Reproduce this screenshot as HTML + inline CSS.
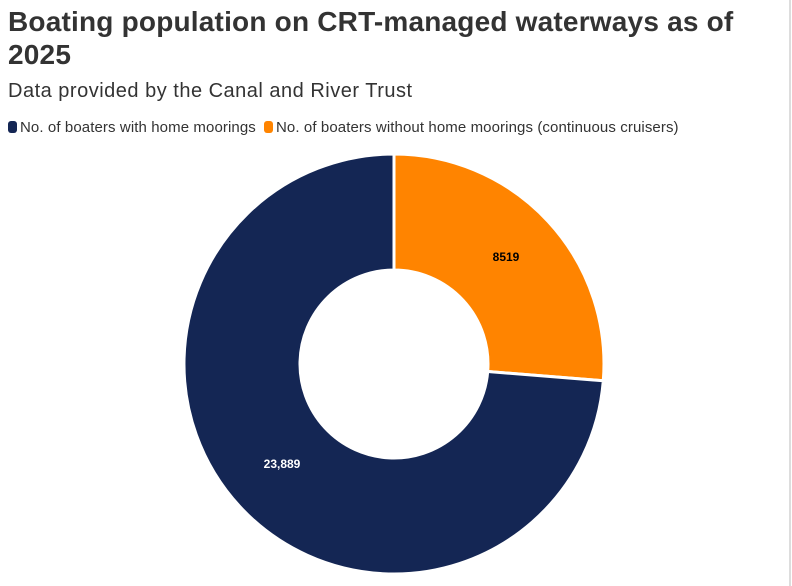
<!DOCTYPE html>
<html><head><style>
body{margin:0;width:792px;height:586px;background:#fff;font-family:"Liberation Sans",sans-serif;position:relative;overflow:hidden}
.t{position:absolute;left:8px;top:5px;font-size:28px;font-weight:bold;color:#333;line-height:33px;letter-spacing:0.2px}
.s{position:absolute;left:8px;top:80px;font-size:20px;color:#333;letter-spacing:0.5px}
.l{position:absolute;top:119px;font-size:15px;color:#333;white-space:nowrap;letter-spacing:0.1px}
.sw{display:inline-block;width:9px;height:12px;border-radius:3px;vertical-align:-1px;margin-right:3px}
.r{position:absolute;left:789px;top:0;width:2px;height:586px;background:#ddd}
</style></head><body>
<div class="t">Boating population on CRT-managed waterways as of<br>2025</div>
<div class="s">Data provided by the Canal and River Trust</div>
<div class="l" style="left:8px"><span class="sw" style="background:#142654"></span>No. of boaters with home moorings</div>
<div class="l" style="left:264px"><span class="sw" style="background:#ff8400"></span>No. of boaters without home moorings (continuous cruisers)</div>
<div class="r"></div>
<svg width="792" height="586" style="position:absolute;left:0;top:0">
<path d="M394,154 A210,210 0 0 1 603.3,380.8 L487.7,371.5 A94,94 0 0 0 394,270 Z" fill="#ff8400" stroke="#fff" stroke-width="3" stroke-linejoin="round"/>
<path d="M603.3,380.8 A210,210 0 1 1 394,154 L394,270 A94,94 0 1 0 487.7,371.5 Z" fill="#142654" stroke="#fff" stroke-width="3" stroke-linejoin="round"/>
<text x="506" y="261" font-size="12" font-weight="bold" fill="#000" text-anchor="middle" font-family="Liberation Sans">8519</text>
<text x="282" y="468" font-size="12" font-weight="bold" fill="#fff" text-anchor="middle" font-family="Liberation Sans">23,889</text>
</svg>
</body></html>
